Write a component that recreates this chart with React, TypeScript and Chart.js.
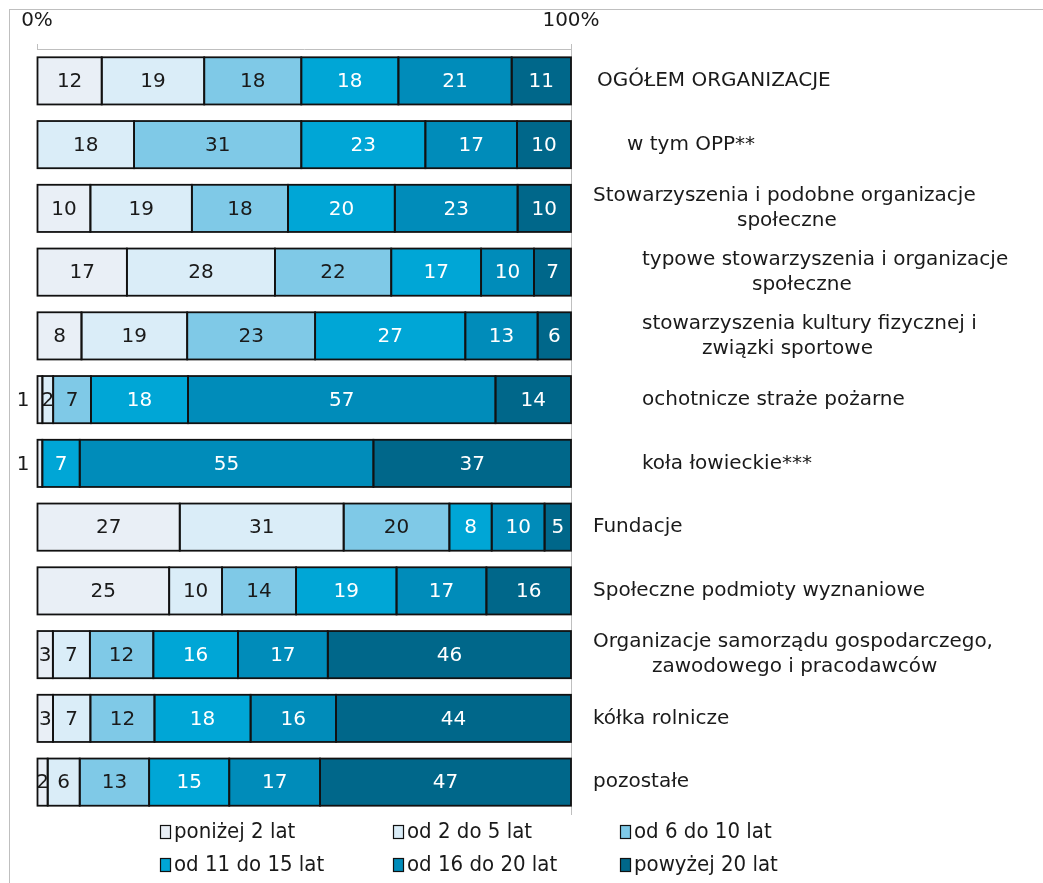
import { useEffect, useRef } from 'react';
import { Chart, registerables } from 'chart.js';

Chart.register(...registerables);

const W = 1043;
const H = 883;

// ---- data ----
const categories: string[][] = [
  ['OGÓŁEM ORGANIZACJE'],
  ['w tym OPP**'],
  ['Stowarzyszenia i podobne organizacje', 'społeczne'],
  ['typowe stowarzyszenia i organizacje', 'społeczne'],
  ['stowarzyszenia kultury fizycznej i', 'związki sportowe'],
  ['ochotnicze straże pożarne'],
  ['koła łowieckie***'],
  ['Fundacje'],
  ['Społeczne podmioty wyznaniowe'],
  ['Organizacje samorządu gospodarczego,', 'zawodowego i pracodawców'],
  ['kółka rolnicze'],
  ['pozostałe'],
];

const seriesNames = [
  'poniżej 2 lat',
  'od 2 do 5 lat',
  'od 6 do 10 lat',
  'od 11 do 15 lat',
  'od 16 do 20 lat',
  'powyżej 20 lat',
];

const ponizej2 = [12, 0, 10, 17, 8, 1, 1, 27, 25, 3, 3, 2];
const od2do5 = [19, 18, 19, 28, 19, 2, 0, 31, 10, 7, 7, 6];
const od6do10 = [18, 31, 18, 22, 23, 7, 0, 20, 14, 12, 12, 13];
const od11do15 = [18, 23, 20, 17, 27, 18, 7, 8, 19, 16, 18, 15];
const od16do20 = [21, 17, 23, 10, 13, 57, 55, 10, 17, 17, 16, 17];
const powyzej20 = [11, 10, 10, 7, 6, 14, 37, 5, 16, 46, 44, 47];

const xTickValues = [0, 100];

// ---- styles ----
const seriesColors = ['#E9EFF6', '#DAEDF8', '#7FC9E7', '#00A6D6', '#008CBA', '#00678A'];
const labelColors = ['#1a1a1a', '#1a1a1a', '#1a1a1a', '#ffffff', '#ffffff', '#ffffff'];
const categoryLineX: number[][] = [
  [597], [627], [593, 737], [642, 752], [642, 702], [642], [642], [593], [593], [593, 652], [593], [593],
];
const legendColX = [160, 393, 620];
const legendRowY = [832, 865];
const FONT = "'DejaVu Sans', Verdana, sans-serif";
const LEGEND_FONT = "'DejaVu Sans Condensed', 'DejaVu Sans', sans-serif";

const allSeries = [ponizej2, od2do5, od6do10, od11do15, od16do20, powyzej20];
const rowTotals = categories.map((_, i) => allSeries.reduce((s, arr) => s + arr[i], 0));

const framePlugin = {
  id: 'framePlugin',
  beforeDraw(chart: any) {
    const ctx = chart.ctx;
    ctx.save();
    ctx.fillStyle = '#ffffff';
    ctx.fillRect(0, 0, chart.width, chart.height);
    ctx.strokeStyle = '#bfbfbf';
    ctx.lineWidth = 1;
    ctx.strokeRect(9.5, 9.5, chart.width + 20, chart.height + 20);
    ctx.restore();
  },
};

const barOutlinePlugin = {
  id: 'barOutlinePlugin',
  afterDatasetsDraw(chart: any) {
    const ctx = chart.ctx;
    ctx.save();
    ctx.strokeStyle = '#111111';
    ctx.lineWidth = 1.8;
    chart.data.datasets.forEach((_: any, di: number) => {
      const meta = chart.getDatasetMeta(di);
      meta.data.forEach((bar: any, i: number) => {
        if (!allSeries[di][i]) return;
        const { x, base, y, height } = bar.getProps(['x', 'base', 'y', 'height'], true);
        const left = Math.min(x, base);
        const w = Math.abs(x - base);
        ctx.strokeRect(left, y - height / 2, w, height);
      });
    });
    ctx.restore();
  },
};

const valueLabelPlugin = {
  id: 'valueLabelPlugin',
  afterDatasetsDraw(chart: any) {
    const ctx = chart.ctx;
    ctx.save();
    ctx.font = `20px ${FONT}`;
    ctx.textBaseline = 'middle';
    chart.data.datasets.forEach((_: any, di: number) => {
      const meta = chart.getDatasetMeta(di);
      meta.data.forEach((bar: any, i: number) => {
        const raw = allSeries[di][i];
        if (!raw) return;
        const { x, base, y } = bar.getProps(['x', 'base', 'y'], true);
        const left = Math.min(x, base);
        const w = Math.abs(x - base);
        if (w < 8) {
          ctx.fillStyle = '#1a1a1a';
          ctx.textAlign = 'right';
          ctx.fillText(String(raw), left - 8, y + 1);
        } else {
          ctx.fillStyle = labelColors[di];
          ctx.textAlign = 'center';
          ctx.fillText(String(raw), left + w / 2, y + 1);
        }
      });
    });
    ctx.restore();
  },
};

const categoryLabelPlugin = {
  id: 'categoryLabelPlugin',
  afterDraw(chart: any) {
    const ctx = chart.ctx;
    const yScale = chart.scales.y;
    ctx.save();
    ctx.font = `20px ${FONT}`;
    ctx.fillStyle = '#1a1a1a';
    ctx.textAlign = 'left';
    ctx.textBaseline = 'middle';
    categories.forEach((lines, i) => {
      const cy = yScale.getPixelForValue(i);
      const n = lines.length;
      lines.forEach((line, j) => {
        const ly = cy + (j - (n - 1) / 2) * 25;
        ctx.fillText(line, categoryLineX[i][j], ly);
      });
    });
    ctx.restore();
  },
};

const legendPlugin = {
  id: 'legendPlugin',
  afterDraw(chart: any) {
    const ctx = chart.ctx;
    ctx.save();
    ctx.font = `22px ${LEGEND_FONT}`;
    ctx.textBaseline = 'middle';
    ctx.textAlign = 'left';
    seriesNames.forEach((name, k) => {
      const col = k % 3;
      const row = Math.floor(k / 3);
      const x = legendColX[col];
      const y = legendRowY[row];
      ctx.fillStyle = seriesColors[k];
      ctx.fillRect(x + 0.5, y - 6.5, 10, 13);
      ctx.strokeStyle = '#111111';
      ctx.lineWidth = 1.2;
      ctx.strokeRect(x + 0.5, y - 6.5, 10, 13);
      ctx.fillStyle = '#1a1a1a';
      ctx.fillText(name, x + 14, y);
    });
    ctx.restore();
  },
};

export default function App() {
  const canvasRef = useRef<HTMLCanvasElement | null>(null);

  useEffect(() => {
    if (!canvasRef.current) return;
    const datasets = allSeries.map((arr, di) => ({
      label: seriesNames[di],
      data: arr.map((v, i) => (v / rowTotals[i]) * 100),
      backgroundColor: seriesColors[di],
      borderWidth: 0,
      categoryPercentage: 1,
      barPercentage: 0.74,
    }));
    const chart = new Chart(canvasRef.current, {
      type: 'bar',
      data: { labels: categories.map((l) => l.join(' ')), datasets },
      options: {
        indexAxis: 'y',
        animation: false,
        responsive: false,
        devicePixelRatio: 1,
        events: [],
        layout: { padding: { left: 37, right: W - 571, top: 0, bottom: H - 814 } },
        plugins: {
          legend: { display: false },
          tooltip: { enabled: false },
          title: { display: false },
        },
        scales: {
          x: {
            type: 'linear',
            position: 'top',
            stacked: true,
            min: 0,
            max: 100,
            afterBuildTicks: (scale: any) => {
              scale.ticks = xTickValues.map((v) => ({ value: v }));
            },
            afterFit: (scale: any) => {
              scale.height = 49;
            },
            ticks: {
              callback: (v: any) => `${v}%`,
              font: { family: FONT, size: 20 },
              color: '#1a1a1a',
              padding: 11,
              maxRotation: 0,
              autoSkip: false,
            },
            grid: {
              display: true,
              drawOnChartArea: false,
              drawTicks: true,
              tickLength: 5,
              color: '#bfbfbf',
            },
            border: { display: true, color: '#bfbfbf', width: 1 },
          },
          y: {
            type: 'category',
            position: 'right',
            stacked: true,
            afterFit: (scale: any) => {
              scale.width = 0;
            },
            ticks: { display: false },
            grid: { display: false },
            border: { display: true, color: '#bfbfbf', width: 1 },
          },
        },
      },
      plugins: [framePlugin, barOutlinePlugin, valueLabelPlugin, categoryLabelPlugin, legendPlugin],
    } as any);
    return () => chart.destroy();
  }, []);

  return (
    <div style={{ position: 'fixed', left: 0, top: 0, width: W, height: H, background: '#fff' }}>
      <canvas ref={canvasRef} width={W} height={H} style={{ width: W, height: H, display: 'block' }} />
    </div>
  );
}
